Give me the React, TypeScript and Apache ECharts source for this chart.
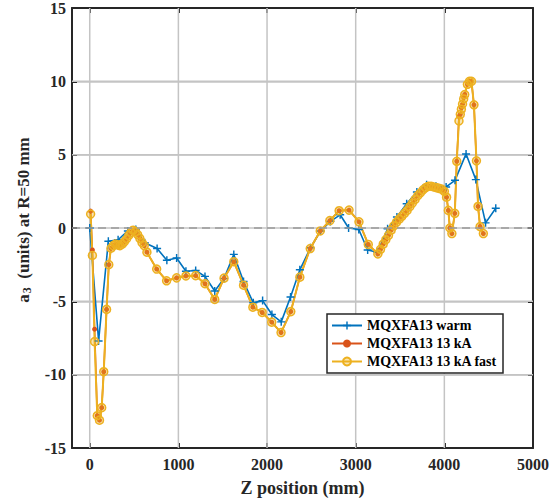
import React, { useEffect, useRef } from 'react';
import * as echarts from 'echarts';

const xTickValues = [0, 1000, 2000, 3000, 4000, 5000];
const yTickValues = [-10, -5, 5, 10];
const xRange = [-200, 5000];
const yRange = [-15, 15];

const warmZ = [0, 100, 210, 320, 430, 520, 620, 760, 870, 980, 1085, 1195, 1300, 1410, 1515, 1625, 1735, 1845, 1950, 2055, 2160, 2265, 2370, 2490, 2605, 2715, 2825, 2920, 3035, 3135, 3245, 3360, 3465, 3575, 3690, 3800, 3905, 4020, 4120, 4245, 4355, 4465, 4580];
const warmA3 = [0, -7.7, -0.9, -0.8, -0.2, -0.1, -1.0, -1.4, -2.2, -2.05, -2.95, -2.9, -3.3, -4.3, -3.45, -1.8, -3.65, -5.1, -4.95, -5.9, -6.4, -4.7, -2.85, -1.35, -0.2, 0.45, 0.9, 0.0, -0.1, -1.5, -1.65, -0.05, 0.75, 1.65, 2.45, 2.95, 2.85, 2.8, 3.25, 5.05, 3.3, 0.35, 1.35];

const z13 = [10, 30, 55, 85, 110, 135, 158, 190, 215, 240, 265, 290, 315, 340, 365, 390, 415, 440, 465, 490, 515, 540, 565, 590, 615, 645, 755, 867, 980, 1085, 1195, 1300, 1410, 1515, 1625, 1735, 1840, 1945, 2053, 2158, 2268, 2370, 2487, 2600, 2708, 2813, 2925, 3037, 3142, 3250, 3280, 3310, 3340, 3370, 3400, 3430, 3460, 3490, 3520, 3550, 3580, 3610, 3640, 3670, 3700, 3730, 3760, 3790, 3820, 3850, 3880, 3910, 3940, 3970, 4000, 4025, 4045, 4062, 4085, 4118, 4140, 4165, 4180, 4192, 4205, 4218, 4230, 4260, 4283, 4306, 4334, 4362, 4380, 4403, 4440];
const a3_13kA = [1.15, -1.5, -6.9, -12.8, -13.1, -12.25, -9.8, -5.55, -2.5, -1.38, -1.2, -1.1, -1.15, -1.2, -1.1, -0.95, -0.75, -0.5, -0.3, -0.15, -0.25, -0.45, -0.7, -1.0, -1.2, -1.65, -2.8, -3.6, -3.4, -3.27, -3.25, -3.8, -4.87, -3.42, -2.3, -3.9, -5.4, -5.76, -6.42, -7.13, -5.7, -3.35, -1.4, -0.2, 0.5, 1.18, 1.22, 0.42, -1.12, -1.77, -1.45, -1.1, -0.8, -0.5, -0.15, 0.15, 0.4, 0.6, 0.8, 1.0, 1.2, 1.45, 1.7, 1.95, 2.2, 2.4, 2.6, 2.75, 2.85, 2.85, 2.8, 2.75, 2.7, 2.65, 2.5, 2.1, 1.2, 0.0, -0.38, 1.0, 4.55, 7.6, 7.75, 8.2, 8.45, 8.9, 9.1, 9.8, 10.0, 10.0, 8.4, 4.58, 1.47, 0.1, -0.38];
const a3_fast = [0.95, -1.87, -7.75, -12.8, -13.1, -12.25, -9.8, -5.55, -2.5, -1.38, -1.2, -1.1, -1.15, -1.2, -1.1, -0.95, -0.75, -0.5, -0.3, -0.15, -0.25, -0.45, -0.7, -1.0, -1.2, -1.65, -2.8, -3.6, -3.4, -3.27, -3.25, -3.8, -4.87, -3.42, -2.3, -3.9, -5.4, -5.76, -6.42, -7.13, -5.7, -3.35, -1.4, -0.2, 0.5, 1.18, 1.22, 0.42, -1.12, -1.77, -1.45, -1.1, -0.8, -0.5, -0.15, 0.15, 0.4, 0.6, 0.8, 1.0, 1.2, 1.45, 1.7, 1.95, 2.2, 2.4, 2.6, 2.75, 2.85, 2.85, 2.8, 2.75, 2.7, 2.65, 2.5, 2.1, 1.2, 0.0, -0.38, 1.0, 4.55, 7.3, 7.75, 8.1, 8.45, 8.8, 9.1, 9.8, 10.0, 10.0, 8.4, 4.58, 1.47, 0.1, -0.38];

const seriesNames = ['MQXFA13 warm', 'MQXFA13 13 kA', 'MQXFA13 13 kA fast'];

const FONT = 'Liberation Serif';
const PLUS = 'path://M-1,-0.18 L-0.18,-0.18 L-0.18,-1 L0.18,-1 L0.18,-0.18 L1,-0.18 L1,0.18 L0.18,0.18 L0.18,1 L-0.18,1 L-0.18,0.18 L-1,0.18 Z';

const pairs = (xs: number[], ys: number[]) => xs.map((x, i) => [x, ys[i]]);

export default function App() {
  const ref = useRef<HTMLDivElement>(null);
  useEffect(() => {
    if (!ref.current) return;
    document.body.style.margin = '0';
    const chart = echarts.init(ref.current, undefined, { renderer: 'svg' });
    const axisLine = { show: true, onZero: false, lineStyle: { color: '#262626', width: 2 } };
    const tick = { show: true, inside: true, length: 5, lineStyle: { color: '#262626', width: 2 } };
    const labelStyle = { fontFamily: FONT, fontWeight: 'bold' as const, fontSize: 16, color: '#262626' };
    const gridColor = '#c4c4c4';
    const vGrid = xTickValues.slice(0, 5).map((v) => ({
      name: 'vgrid' + v,
      type: 'line',
      data: yRange.map((y) => [v, y]),
      symbol: 'none',
      silent: true,
      z: 1,
      lineStyle: { color: gridColor, width: 1.5, opacity: 1 },
    }));
    const hGrid = yTickValues.map((v) => ({
      name: 'hgrid' + v,
      type: 'line',
      data: xRange.map((x) => [x, v]),
      symbol: 'none',
      silent: true,
      z: 1,
      lineStyle: { color: gridColor, width: 1.5, opacity: 1 },
    }));
    chart.setOption({
      animation: false,
      grid: { left: 72, right: 18, top: 8, bottom: 48 },
      legend: {
        orient: 'vertical',
        left: 327,
        top: 314,
        padding: [3, 6, 3, 4],
        itemGap: 1,
        itemWidth: 30,
        itemHeight: 10,
        borderColor: '#262626',
        borderWidth: 1.5,
        backgroundColor: '#fff',
        borderRadius: 0,
        textStyle: { fontFamily: FONT, fontWeight: 'bold', fontSize: 14, color: '#000', lineHeight: 17 },
        data: seriesNames,
      },
      xAxis: [
        {
          type: 'value',
          min: xRange[0],
          max: xRange[1],
          axisLine,
          axisTick: { ...tick, customValues: xTickValues },
          axisLabel: { ...labelStyle, margin: 8, customValues: xTickValues, formatter: (v: number) => String(v) },
          splitLine: { show: false },
          name: 'Z position (mm)',
          nameLocation: 'middle',
          nameGap: 31,
          nameTextStyle: { fontFamily: FONT, fontWeight: 'bold', fontSize: 18, color: '#262626' },
        },
        {
          type: 'value',
          position: 'top',
          min: xRange[0],
          max: xRange[1],
          axisLine,
          axisTick: { ...tick, customValues: xTickValues },
          axisLabel: { show: false },
          splitLine: { show: false },
        },
      ],
      yAxis: [
        {
          type: 'value',
          min: yRange[0],
          max: yRange[1],
          interval: 5,
          axisLine,
          axisTick: tick,
          axisLabel: { ...labelStyle, margin: 6 },
          splitLine: { show: true, lineStyle: { color: gridColor, width: 1.5 } },
          name: '{a|a}{s|3}{a|  (units) at R=50 mm}',
          nameLocation: 'middle',
          nameGap: 39,
          nameTextStyle: {
            padding: [0, 0, 0, 16],
            rich: {
              a: { fontFamily: FONT, fontWeight: 'bold', fontSize: 17, color: '#262626' },
              s: { fontFamily: FONT, fontWeight: 'bold', fontSize: 12, color: '#262626', padding: [7, 0, 0, 1] },
            },
          },
        },
        {
          type: 'value',
          position: 'right',
          min: yRange[0],
          max: yRange[1],
          interval: 5,
          axisLine,
          axisTick: tick,
          axisLabel: { show: false },
          splitLine: { show: false },
        },
      ],
      series: [
        ...vGrid,
        ...hGrid,
        {
          name: seriesNames[0],
          type: 'line',
          data: pairs(warmZ, warmA3),
          color: '#0072BD',
          lineStyle: { width: 1.6, color: '#0072BD' },
          symbol: PLUS,
          symbolSize: 8,
          itemStyle: { color: '#0072BD' },
          markLine: {
            silent: true,
            symbol: 'none',
            label: { show: false },
            data: [{ yAxis: 0, lineStyle: { color: '#9a9a9a', type: [8, 5], width: 1.5 } }],
          },
        },
        {
          name: seriesNames[1],
          type: 'line',
          data: pairs(z13, a3_13kA),
          color: '#D95319',
          lineStyle: { width: 1.6, color: '#D95319' },
          symbol: 'circle',
          symbolSize: 5,
          itemStyle: { color: '#D95319' },
        },
        {
          name: seriesNames[2],
          type: 'line',
          data: pairs(z13, a3_fast),
          color: '#EDB120',
          lineStyle: { width: 2, color: '#EDB120' },
          symbol: 'circle',
          symbolSize: 8,
          itemStyle: { color: 'rgba(237,177,32,0.35)', borderColor: '#EDB120', borderWidth: 1.5 },
        },
      ],
    });
    return () => chart.dispose();
  }, []);
  return <div ref={ref} style={{ width: 552, height: 502 }} />;
}
